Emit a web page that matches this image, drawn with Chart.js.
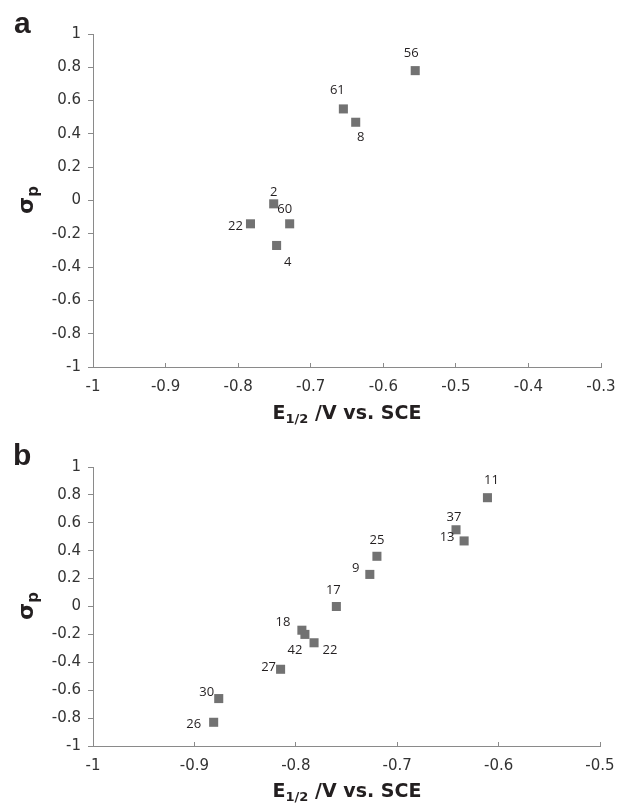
<!DOCTYPE html>
<html>
<head>
<meta charset="utf-8">
<script src="https://cdn.jsdelivr.net/npm/chart.js@4.4.1/dist/chart.umd.min.js"></script>
<style>
    body { margin: 0; background: #fff; }
    #wrap { position: relative; width: 618px; height: 812px; overflow: hidden; background: #fff; }
    canvas { position: absolute; left: 0; }
    #chartA { top: 0; }
    #chartB { top: 400px; }
    .letter { position: absolute; font: bold 30px "Liberation Sans", Arial, sans-serif; color: #231f20; line-height: 1; }
    .xtitle { position: absolute; left: 197px; width: 300px; text-align: center; font: bold 19px "DejaVu Sans", sans-serif; color: #231f20; line-height: 1; white-space: nowrap; }
    .xtitle sub { font-size: 13px; vertical-align: -4px; line-height: 0; }
    .ytitle { position: absolute; left: -12px; width: 80px; height: 30px; line-height: 30px; text-align: center; font: bold 22px "DejaVu Sans", sans-serif; color: #231f20; transform: rotate(-90deg); white-space: nowrap; }
    .ytitle sub { font-size: 15px; vertical-align: -5px; line-height: 0; }
</style>
</head>
<body>
<div id="wrap">
    <canvas id="chartA" width="618" height="400"></canvas>
    <canvas id="chartB" width="618" height="412"></canvas>
    <div class="letter" style="left:14px; top:8px;">a</div>
    <div class="letter" style="left:13px; top:440px;">b</div>
    <div class="ytitle" style="top:185px;">σ<sub>p</sub></div>
    <div class="ytitle" style="top:591px;">σ<sub>p</sub></div>
    <div class="xtitle" style="top:403px;">E<sub>1/2</sub> /V vs. SCE</div>
    <div class="xtitle" style="top:781px;">E<sub>1/2</sub> /V vs. SCE</div>
</div>
<script>
// Panel a data
const labelsA = ['56', '61', '8', '2', '60', '22', '4'];
const xA = [-0.556, -0.655, -0.638, -0.751, -0.729, -0.783, -0.747];
const yA = [0.78, 0.55, 0.47, -0.02, -0.14, -0.14, -0.27];

// Panel b data
const labelsB = ['11', '37', '13', '25', '9', '17', '18', '42', '22', '27', '30', '26'];
const xB = [-0.611, -0.642, -0.634, -0.720, -0.727, -0.760, -0.794, -0.791, -0.782, -0.815, -0.876, -0.881];
const yB = [0.78, 0.55, 0.47, 0.36, 0.23, 0.00, -0.17, -0.20, -0.26, -0.45, -0.66, -0.83];

// Tick values and labels
const yTicks = [-1, -0.8, -0.6, -0.4, -0.2, 0, 0.2, 0.4, 0.6, 0.8, 1];
const yTickLabels = ['-1', '-0.8', '-0.6', '-0.4', '-0.2', '0', '0.2', '0.4', '0.6', '0.8', '1'];
const xTicksA = [-1, -0.9, -0.8, -0.7, -0.6, -0.5, -0.4, -0.3];
const xTickLabelsA = ['-1', '-0.9', '-0.8', '-0.7', '-0.6', '-0.5', '-0.4', '-0.3'];
const xTicksB = [-1, -0.9, -0.8, -0.7, -0.6, -0.5];
const xTickLabelsB = ['-1', '-0.9', '-0.8', '-0.7', '-0.6', '-0.5'];

// Label placement next to each marker (pixels, dx/dy)
const offsetsA = [[-4, -17], [-6, -19], [5, 15], [0, -12], [-5, -15], [-15, 2], [11, 17]];
const offsetsB = [[4, -17], [-2, -12], [-17, -4], [0, -16], [-14, -6], [-3, -16], [-19, -8], [-10, 16], [16, 8], [-12, -2], [-12, -6], [-20, 2]];

const AXIS_COLOR = '#8a8a8a';
const TEXT_COLOR = '#333333';

// Draw the compound number next to each point
const pointLabels = {
    id: 'pointLabels',
    afterDatasetsDraw(chart, args, opts) {
        const ctx = chart.ctx;
        const meta = chart.getDatasetMeta(0);
        ctx.save();
        ctx.font = '13px "Open Sans", sans-serif';
        ctx.fillStyle = '#231f20';
        ctx.textAlign = 'center';
        ctx.textBaseline = 'middle';
        meta.data.forEach((pt, i) => {
            const off = opts.offsets[i];
            ctx.fillText(opts.labels[i], pt.x + off[0], pt.y + off[1]);
        });
        ctx.restore();
    }
};

function makeChart(id, xs, ys, labels, offsets, xTicks, xTickLabels, xMax, top, right, xHeight) {
    const ctx = document.getElementById(id).getContext('2d');
    return new Chart(ctx, {
        type: 'scatter',
        data: {
            datasets: [{
                data: xs.map((x, i) => ({ x: x, y: ys[i] })),
                pointStyle: 'rect',
                pointRadius: 6.4,
                pointHoverRadius: 6.4,
                backgroundColor: '#727272',
                borderWidth: 0
            }]
        },
        options: {
            responsive: false,
            animation: false,
            devicePixelRatio: 1,
            layout: { padding: { top: top, right: right, left: 0, bottom: 0 } },
            plugins: {
                legend: { display: false },
                tooltip: { enabled: false },
                pointLabels: { labels: labels, offsets: offsets }
            },
            scales: {
                x: {
                    type: 'linear',
                    min: -1,
                    max: xMax,
                    afterBuildTicks: s => { s.ticks = xTicks.map(v => ({ value: v })); },
                    afterFit: s => {
                        s.height = xHeight;
                        // keep edge labels from shrinking the plot area
                        s.paddingLeft = 0;
                        s.paddingRight = 0;
                    },
                    ticks: {
                        callback: (v, i) => xTickLabels[i],
                        font: { family: 'DejaVu Sans', size: 15 },
                        color: TEXT_COLOR,
                        padding: 15,
                        maxRotation: 0,
                        autoSkip: false
                    },
                    grid: { drawOnChartArea: false, drawTicks: true, tickLength: -4, color: AXIS_COLOR },
                    border: { color: AXIS_COLOR, width: 1 }
                },
                y: {
                    type: 'linear',
                    min: -1,
                    max: 1,
                    afterBuildTicks: s => { s.ticks = yTicks.map(v => ({ value: v })); },
                    afterFit: s => {
                        s.width = 93;
                        s.paddingTop = 0;
                        s.paddingBottom = 0;
                    },
                    ticks: {
                        callback: (v, i) => yTickLabels[i],
                        font: { family: 'DejaVu Sans', size: 15 },
                        color: TEXT_COLOR,
                        padding: 7,
                        autoSkip: false
                    },
                    grid: { drawOnChartArea: false, drawTicks: true, tickLength: 5, color: AXIS_COLOR },
                    border: { color: AXIS_COLOR, width: 1 }
                }
            }
        },
        plugins: [pointLabels]
    });
}

makeChart('chartA', xA, yA, labelsA, offsetsA, xTicksA, xTickLabelsA, -0.3, 34, 17, 33);
makeChart('chartB', xB, yB, labelsB, offsetsB, xTicksB, xTickLabelsB, -0.5, 67, 18, 66);
</script>
</body>
</html>
